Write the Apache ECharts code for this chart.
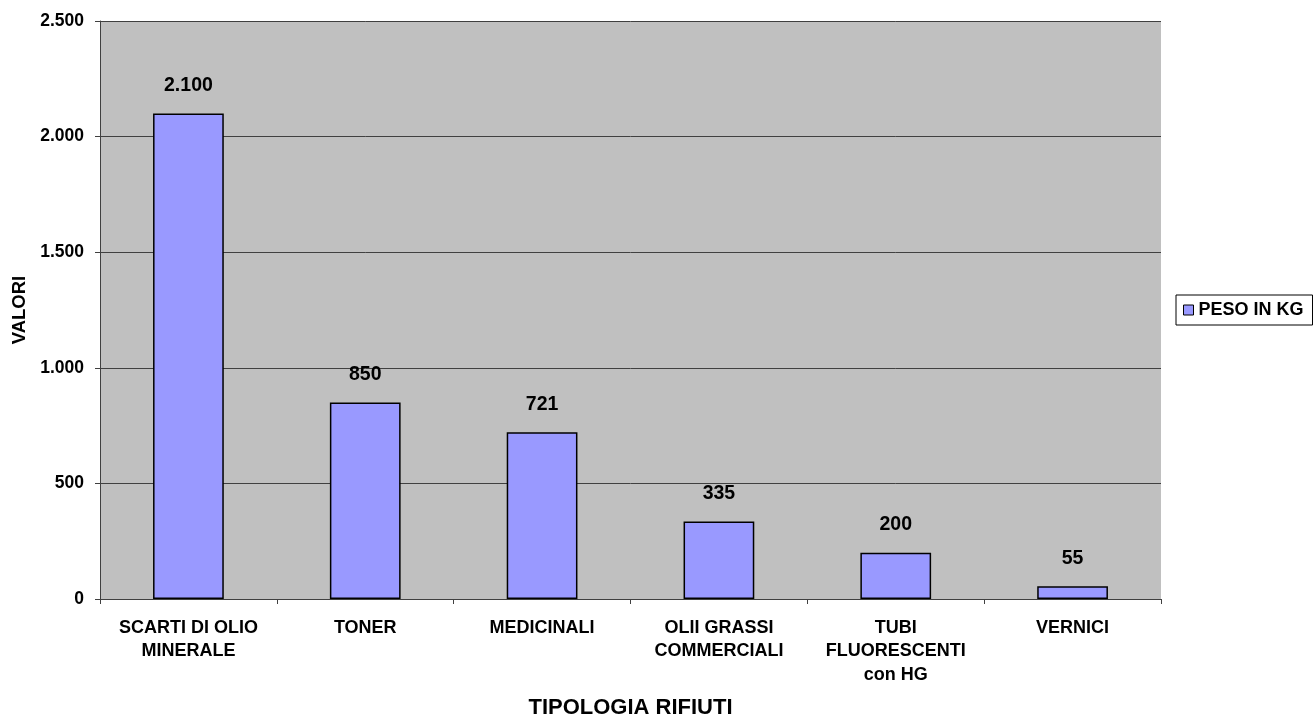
<!DOCTYPE html>
<html>
<head>
<meta charset="utf-8">
<script src="https://cdn.jsdelivr.net/npm/echarts@6/dist/echarts.min.js"></script>
<style>
  html, body { margin: 0; padding: 0; background: #fff; }
  #chart { width: 1313px; height: 715px; }
</style>
</head>
<body>
<div id="chart"></div>
<script>
// Waste types and their weight in kg
const categories = [
  'SCARTI DI OLIO\nMINERALE',
  'TONER',
  'MEDICINALI',
  'OLII GRASSI\nCOMMERCIALI',
  'TUBI\nFLUORESCENTI\ncon HG',
  'VERNICI'
];
const pesoKg = [2100, 850, 721, 335, 200, 55];
const seriesName = 'PESO IN KG';

// Italian thousands separator
function fmt(v) {
  return String(v).replace(/\B(?=(\d{3})+(?!\d))/g, '.');
}

const font = '"Liberation Sans", Arial, sans-serif';
const chart = echarts.init(document.getElementById('chart'));
chart.setOption({
  animation: false,
  backgroundColor: '#ffffff',
  textStyle: { fontFamily: font },
  grid: {
    left: 100, right: 152, top: 21, bottom: 116,
    containLabel: false, outerBoundsMode: 'none',
    show: true, backgroundColor: '#c0c0c0', borderWidth: 0
  },
  legend: {
    data: [seriesName],
    left: 1176, top: 295,
    orient: 'vertical',
    backgroundColor: '#ffffff',
    borderColor: '#000000',
    borderWidth: 1,
    borderRadius: 0,
    padding: [6, 9, 6, 7],
    icon: 'rect',
    itemWidth: 10, itemHeight: 10, itemGap: 4,
    itemStyle: { borderColor: '#000000', borderWidth: 1 },
    textStyle: { fontFamily: font, fontWeight: 'bold', fontSize: 18, color: '#000', padding: [0, 0, 0, 0] }
  },
  xAxis: {
    type: 'category',
    data: categories,
    name: 'TIPOLOGIA RIFIUTI',
    nameLocation: 'middle',
    nameGap: 98,
    nameTextStyle: { fontFamily: font, fontWeight: 'bold', fontSize: 22, color: '#000' },
    axisLine: { lineStyle: { color: '#404040', width: 1 } },
    axisTick: { show: true, alignWithLabel: false, length: 5, lineStyle: { color: '#404040' } },
    axisLabel: { interval: 0, margin: 17, fontFamily: font, fontWeight: 'bold', fontSize: 18, color: '#000', lineHeight: 23.5 },
    splitLine: { show: false }
  },
  yAxis: {
    type: 'value',
    min: 0, max: 2500, interval: 500,
    name: 'VALORI',
    nameLocation: 'middle',
    nameGap: 67,
    nameRotate: 90,
    nameTextStyle: { fontFamily: font, fontWeight: 'bold', fontSize: 18.5, color: '#000' },
    axisLine: { show: true, lineStyle: { color: '#404040', width: 1 } },
    axisTick: { show: true, length: 5, lineStyle: { color: '#404040' } },
    axisLabel: { margin: 16, fontFamily: font, fontWeight: 'bold', fontSize: 17.5, color: '#000', formatter: fmt },
    splitLine: { show: true, lineStyle: { color: '#404040', width: 1 } }
  },
  series: [{
    name: seriesName,
    type: 'bar',
    data: pesoKg,
    barWidth: '40%',
    itemStyle: { color: '#9999ff', borderColor: '#000000', borderWidth: 1.5 },
    label: {
      show: true,
      position: 'top',
      distance: 18,
      fontFamily: font,
      fontWeight: 'bold',
      fontSize: 19.5,
      color: '#000',
      formatter: p => fmt(p.value)
    }
  }]
});
</script>
</body>
</html>
